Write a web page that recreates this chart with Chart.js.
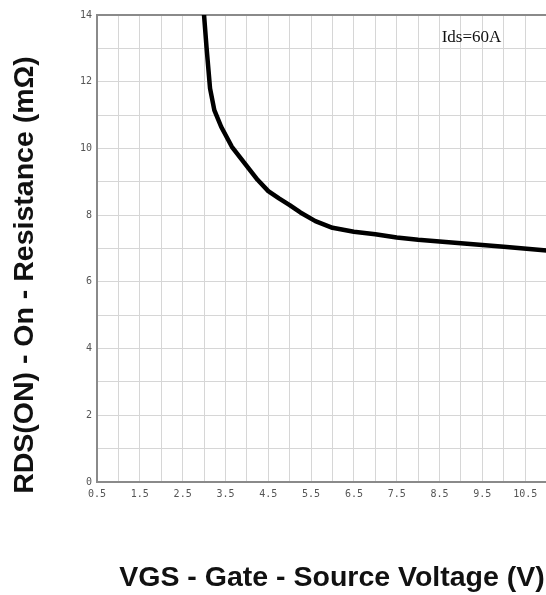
<!DOCTYPE html>
<html>
<head>
<meta charset="utf-8">
<script src="https://cdn.jsdelivr.net/npm/chart.js@4"></script>
<style>
  html, body { margin: 0; padding: 0; background: #fff; overflow: hidden; }
  #wrap { position: absolute; left: 0; top: 0; width: 574px; height: 595px; }
</style>
</head>
<body>
<div id="wrap"><canvas id="c"></canvas></div>
<script>
// Gate-source voltage (V) and on-resistance (mΩ) at Ids = 60 A
const vgs   = [3.0, 3.06, 3.14, 3.24, 3.4, 3.65, 4.0, 4.25, 4.5, 4.75, 5.0, 5.25, 5.6, 6.0, 6.5, 7.0, 7.5, 8.0, 9.0, 10.0, 11.0];
const rdsOn = [14.0, 13.0, 11.8, 11.15, 10.65, 10.05, 9.47, 9.06, 8.72, 8.5, 8.3, 8.08, 7.82, 7.62, 7.5, 7.43, 7.33, 7.26, 7.16, 7.05, 6.94];

// Axis ranges and labelled ticks
const xMin = 0.5, xMax = 11.5, xStep = 0.5;
const xLabels = ['0.5', '1.5', '2.5', '3.5', '4.5', '5.5', '6.5', '7.5', '8.5', '9.5', '10.5'];
const yMin = 0, yMax = 14, yStep = 1;
const yLabels = ['0', '2', '4', '6', '8', '10', '12', '14'];

const xTitle = 'VGS - Gate - Source Voltage (V)';
const yTitle = 'RDS(ON) - On - Resistance (mΩ)';
const noteText = 'Ids=60A';
const notePos = { x: 8.55, y: 13.33 };

const points = vgs.map((v, i) => ({ x: v, y: rdsOn[i] }));

const fmt = v => (Math.round(v * 10) / 10).toFixed(v % 1 === 0 ? 0 : 1);

// Axis titles and the test-condition note
const titlesPlugin = {
  id: 'titles',
  afterDraw(chart) {
    const { ctx, scales } = chart;
    ctx.save();
    ctx.fillStyle = '#111';
    ctx.font = 'bold 28.5px "Liberation Sans", Arial, sans-serif';
    ctx.textAlign = 'center';
    ctx.textBaseline = 'middle';
    ctx.fillText(xTitle, 332, 578);
    ctx.translate(25, 275);
    ctx.rotate(-Math.PI / 2);
    ctx.fillText(yTitle, 0, 0);
    ctx.restore();

    ctx.save();
    ctx.fillStyle = '#111';
    ctx.font = '17px "Liberation Serif", "Times New Roman", serif';
    ctx.textAlign = 'left';
    ctx.textBaseline = 'middle';
    ctx.fillText(noteText, scales.x.getPixelForValue(notePos.x), scales.y.getPixelForValue(notePos.y));
    ctx.restore();
  }
};

new Chart(document.getElementById('c'), {
  type: 'line',
  data: {
    datasets: [{
      data: points,
      borderColor: '#000',
      borderWidth: 4.5,
      borderJoinStyle: 'round',
      borderCapStyle: 'round',
      pointRadius: 0,
      tension: 0,
      fill: false
    }]
  },
  options: {
    responsive: true,
    maintainAspectRatio: false,
    animation: false,
    layout: { padding: { top: 15, right: 1, left: 0, bottom: 0 } },
    plugins: { legend: { display: false }, tooltip: { enabled: false } },
    scales: {
      x: {
        type: 'linear',
        min: xMin, max: xMax,
        afterFit(scale) { scale.height = 113; },
        afterBuildTicks(scale) {
          const t = [];
          for (let v = xMin; v <= xMax + 1e-9; v += xStep) t.push({ value: Math.round(v * 10) / 10 });
          scale.ticks = t;
        },
        ticks: {
          autoSkip: false, maxRotation: 0, padding: 6,
          color: '#555',
          font: { family: '"DejaVu Sans Mono", monospace', size: 10 },
          callback: v => { const s = fmt(v); return xLabels.includes(s) ? s : ''; }
        },
        grid: {
          drawTicks: false,
          color: '#d6d6d6',
          lineWidth: 1
        },
        border: { color: '#8a8a8a', width: 2 }
      },
      y: {
        type: 'linear',
        min: yMin, max: yMax,
        afterFit(scale) { scale.width = 97; },
        afterBuildTicks(scale) {
          const t = [];
          for (let v = yMin; v <= yMax; v += yStep) t.push({ value: v });
          scale.ticks = t;
        },
        ticks: {
          autoSkip: false, padding: 5,
          color: '#555',
          font: { family: '"DejaVu Sans Mono", monospace', size: 10 },
          callback: v => { const s = fmt(v); return yLabels.includes(s) ? s : ''; }
        },
        grid: {
          drawTicks: false,
          color: ctx => ctx.tick && ctx.tick.value === yMax ? '#8a8a8a' : '#d6d6d6',
          lineWidth: ctx => ctx.tick && ctx.tick.value === yMax ? 2 : 1
        },
        border: { color: '#8a8a8a', width: 2 }
      }
    }
  },
  plugins: [titlesPlugin]
});
</script>
</body>
</html>
